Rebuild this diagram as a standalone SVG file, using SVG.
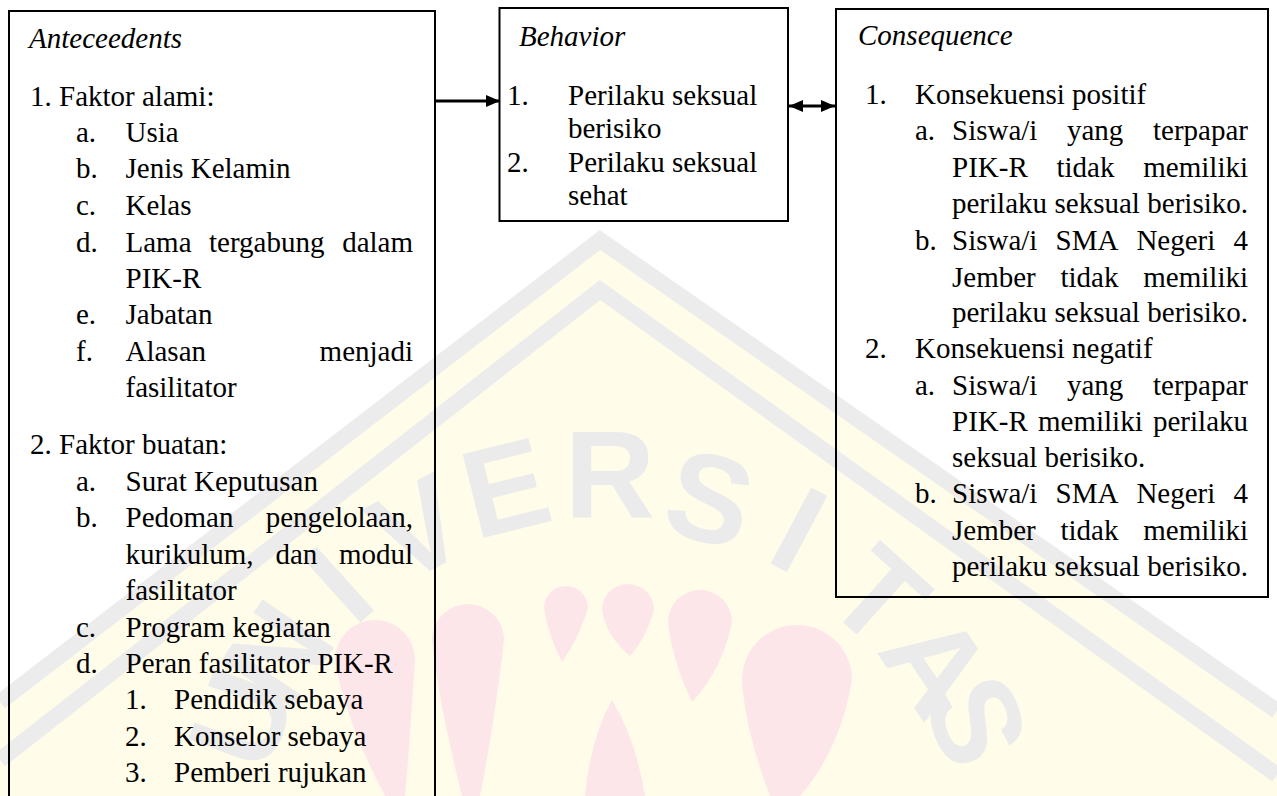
<svg xmlns="http://www.w3.org/2000/svg" width="1277" height="796" viewBox="0 0 1277 796">
<defs>
<style>
.t{font-family:"Liberation Serif","Times New Roman",serif;font-size:29px;fill:#000}
.i{font-style:italic}
.e{text-anchor:end}
.box{fill:none;stroke:#000;stroke-width:2}
.conn{stroke:#000;stroke-width:3;fill:none}
.wm{font-family:"Liberation Sans",Arial,sans-serif;font-weight:bold;font-size:125px;fill:#ebebeb;text-anchor:middle}
.band{fill:none;stroke:#ececec;stroke-width:16;stroke-linejoin:miter}
.drop{fill:#fde6ea}
</style>
<marker id="ah" viewBox="0 0 14 12" refX="14" refY="6" markerWidth="14" markerHeight="12" markerUnits="userSpaceOnUse" orient="auto-start-reverse">
<path d="M0,0 L14,6 L0,12 z" fill="#000"/>
</marker>
</defs>
<rect width="1277" height="796" fill="#fff"/>
<g id="watermark">
<polygon points="0,702 600,240 1277,711 1277,796 0,796" fill="#fffce9"/>
<polyline class="band" points="0,702 600,240 1277,711"/>
<polyline class="band" points="0,760 600,290 1277,775"/>
<path class="drop" d="M335,660 A40,40 0 1 1 415,660 Q410,740 405,796 L385,796 Q345,720 335,660 Z"/>
<path class="drop" d="M432,640 A36,36 0 1 1 504,640 Q495,720 480,796 L462,796 Q438,700 432,640 Z"/>
<path class="drop" d="M544,608 A22,22 0 1 1 588,608 Q578,640 562,662 Q548,635 544,608 Z"/>
<path class="drop" d="M602,610 A26,26 0 1 1 654,610 Q645,640 630,656 Q606,636 602,610 Z"/>
<path class="drop" d="M668,622 A32,32 0 1 1 732,622 Q722,670 692,702 Q672,660 668,622 Z"/>
<path class="drop" d="M742,680 A55,55 0 1 1 852,680 Q840,750 800,796 L770,796 Q745,730 742,680 Z"/>
<path class="drop" d="M585,796 Q590,740 612,700 Q636,740 645,796 Z"/>
<text class="wm" x="240" y="763" transform="rotate(-70 240 718)">U</text>
<text class="wm" x="276" y="698" transform="rotate(-56 276 653)">N</text>
<text class="wm" x="337" y="628" transform="rotate(-42 337 583)">I</text>
<text class="wm" x="417" y="572" transform="rotate(-28 417 527)">V</text>
<text class="wm" x="505" y="531" transform="rotate(-14 505 486)">E</text>
<text class="wm" x="610" y="518">R</text>
<text class="wm" x="710" y="542" transform="rotate(14 710 497)">S</text>
<text class="wm" x="800" y="573" transform="rotate(28 800 528)">I</text>
<text class="wm" x="880" y="640" transform="rotate(42 880 595)">T</text>
<text class="wm" x="938" y="708" transform="rotate(56 938 663)">A</text>
<text class="wm" x="978" y="765" transform="rotate(70 978 720)">S</text>
</g>
<g id="connectors">
<line class="conn" x1="436" y1="101" x2="500" y2="101" marker-end="url(#ah)"/>
<line class="conn" x1="789" y1="106" x2="835" y2="106" marker-start="url(#ah)" marker-end="url(#ah)"/>
</g>
<g id="antecedents">
<rect class="box" x="9" y="11" width="426" height="820"/>
<text class="t i" x="29" y="48">Anteceedents</text>
<text class="t" x="30" y="106">1. Faktor alami:</text>
<text class="t" x="76" y="142">a.</text><text class="t" x="125.5" y="142">Usia</text>
<text class="t" x="76" y="178">b.</text><text class="t" x="125.5" y="178">Jenis Kelamin</text>
<text class="t" x="76" y="215">c.</text><text class="t" x="125.5" y="215">Kelas</text>
<text class="t" x="76" y="251.5">d.</text><text class="t" x="125.5" y="251.5">Lama</text><text class="t" x="209" y="251.5">tergabung</text><text class="t e" x="413" y="251.5">dalam</text>
<text class="t" x="125.5" y="288">PIK-R</text>
<text class="t" x="76" y="324">e.</text><text class="t" x="125.5" y="324">Jabatan</text>
<text class="t" x="76" y="360.5">f.</text><text class="t" x="125.5" y="360.5">Alasan</text><text class="t e" x="413" y="360.5">menjadi</text>
<text class="t" x="125.5" y="397">fasilitator</text>
<text class="t" x="30" y="454">2. Faktor buatan:</text>
<text class="t" x="76" y="490.5">a.</text><text class="t" x="125.5" y="490.5">Surat Keputusan</text>
<text class="t" x="76" y="527">b.</text><text class="t" x="125.5" y="527">Pedoman</text><text class="t e" x="413" y="527">pengelolaan,</text>
<text class="t" x="125.5" y="563.5">kurikulum,</text><text class="t" x="275.5" y="563.5">dan</text><text class="t e" x="413" y="563.5">modul</text>
<text class="t" x="125.5" y="600">fasilitator</text>
<text class="t" x="76" y="636.5">c.</text><text class="t" x="125.5" y="636.5">Program kegiatan</text>
<text class="t" x="76" y="673">d.</text><text class="t" x="125.5" y="673">Peran fasilitator PIK-R</text>
<text class="t" x="125" y="709">1.</text><text class="t" x="174" y="709">Pendidik sebaya</text>
<text class="t" x="125" y="745.5">2.</text><text class="t" x="174" y="745.5">Konselor sebaya</text>
<text class="t" x="125" y="782">3.</text><text class="t" x="174" y="782">Pemberi rujukan</text>
</g>
<g id="behavior">
<rect class="box" x="499.5" y="8" width="288.5" height="213"/>
<text class="t i" x="519" y="46">Behavior</text>
<text class="t" x="507" y="104.5">1.</text><text class="t" x="568" y="104.5">Perilaku seksual</text>
<text class="t" x="568" y="138">berisiko</text>
<text class="t" x="507" y="171.5">2.</text><text class="t" x="568" y="171.5">Perilaku seksual</text>
<text class="t" x="568" y="205">sehat</text>
</g>
<g id="consequence">
<rect class="box" x="836" y="9" width="432" height="588"/>
<text class="t i" x="858" y="45">Consequence</text>
<text class="t" x="865" y="104">1.</text><text class="t" x="915" y="104">Konsekuensi positif</text>
<text class="t" x="915" y="140">a.</text><text class="t" x="952" y="140">Siswa/i</text><text class="t" x="1067" y="140">yang</text><text class="t e" x="1248" y="140">terpapar</text>
<text class="t" x="952" y="177">PIK-R</text><text class="t" x="1056.5" y="177">tidak</text><text class="t e" x="1248" y="177">memiliki</text>
<text class="t" x="952" y="213">perilaku</text><text class="t" x="1054.5" y="213">seksual</text><text class="t e" x="1248" y="213">berisiko.</text>
<text class="t" x="915" y="250">b.</text><text class="t" x="952" y="250">Siswa/i</text><text class="t" x="1055.5" y="250">SMA</text><text class="t" x="1136.4" y="250">Negeri</text><text class="t e" x="1248" y="250">4</text>
<text class="t" x="952" y="286.5">Jember</text><text class="t" x="1060.5" y="286.5">tidak</text><text class="t e" x="1248" y="286.5">memiliki</text>
<text class="t" x="952" y="322">perilaku</text><text class="t" x="1054.5" y="322">seksual</text><text class="t e" x="1248" y="322">berisiko.</text>
<text class="t" x="865" y="358">2.</text><text class="t" x="915" y="358">Konsekuensi negatif</text>
<text class="t" x="915" y="395">a.</text><text class="t" x="952" y="395">Siswa/i</text><text class="t" x="1067" y="395">yang</text><text class="t e" x="1248" y="395">terpapar</text>
<text class="t" x="952" y="431">PIK-R</text><text class="t" x="1038" y="431">memiliki</text><text class="t e" x="1248" y="431">perilaku</text>
<text class="t" x="952" y="467">seksual berisiko.</text>
<text class="t" x="915" y="503">b.</text><text class="t" x="952" y="503">Siswa/i</text><text class="t" x="1055.5" y="503">SMA</text><text class="t" x="1136.4" y="503">Negeri</text><text class="t e" x="1248" y="503">4</text>
<text class="t" x="952" y="540">Jember</text><text class="t" x="1060.5" y="540">tidak</text><text class="t e" x="1248" y="540">memiliki</text>
<text class="t" x="952" y="575.5">perilaku</text><text class="t" x="1054.5" y="575.5">seksual</text><text class="t e" x="1248" y="575.5">berisiko.</text>
</g>
</svg>
